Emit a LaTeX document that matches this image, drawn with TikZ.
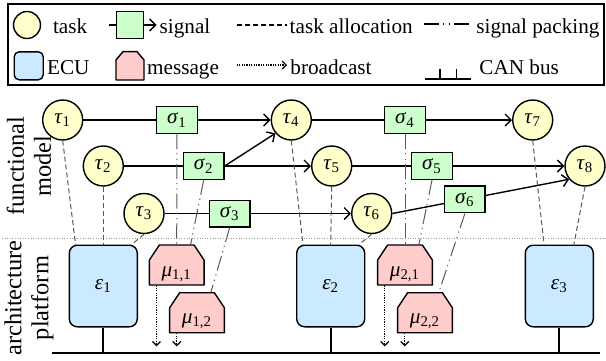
\documentclass[tikz,border=0pt]{standalone}
\usepackage{fontspec}
\setmainfont{Liberation Serif}
\usetikzlibrary{arrows.meta,calc}
\definecolor{taskc}{RGB}{255,255,204}
\definecolor{sigc}{RGB}{204,255,204}
\definecolor{ecuc}{RGB}{204,234,255}
\definecolor{msgc}{RGB}{255,204,204}
\newcommand\gl[2]{\textit{#1}\textsubscript{#2}}
\newcommand\msgbox[8]{%
  \path[draw=black, fill=msgc, line width=0.7pt, line join=round]
    (#2-#4/2,#3+#5/2) -- (#2-#4/2,#3-#5/2+#7) -- (#2-#4/2+#6,#3-#5/2) -- (#2+#4/2-#6,#3-#5/2) -- (#2+#4/2,#3-#5/2+#7) -- (#2+#4/2,#3+#5/2) -- cycle;
  \node[inner sep=0pt, minimum width=#4*0.5pt, minimum height=#5*0.5pt] (#1) at (#2,#3) {#8};
}
\newcommand\mulab[2]{\raisebox{-5.5pt}[0pt][0pt]{\gl{μ}{#1,#2}}}
\begin{document}
\begin{tikzpicture}[x=0.5pt, y=-0.5pt,
  font=\fontsize{10.6pt}{12.7pt}\selectfont,
  task/.style={circle, draw, fill=taskc, line width=0.7pt, minimum size=20pt, inner sep=0pt},
  sig/.style={rectangle, draw, fill=sigc, line width=0.7pt, minimum width=20.3pt, minimum height=13.3pt, inner sep=0pt},
  ecu/.style={rectangle, rounded corners=4pt, draw, fill=ecuc, line width=0.7pt, minimum width=34pt, minimum height=40.8pt, inner sep=0pt},
  txt/.style={inner sep=0pt, anchor=base west},
  conn/.style={line width=0.7pt, -{Straight Barb[length=3pt,width=6pt]}},
  plain/.style={line width=0.7pt},
  alloc/.style={line width=0.5pt, draw=black!65, dash pattern=on 2.5pt off 1.5pt},
  pack/.style={line width=0.5pt, draw=black!65, dash pattern=on 7.5pt off 2pt on 0.6pt off 2.2pt on 0.6pt off 2pt},
  bcast/.style={line width=0.6pt, dash pattern=on 0.6pt off 0.6pt, -{Straight Barb[length=2pt,width=4pt]}},
  bus/.style={line width=1pt},
  sepline/.style={line width=0.4pt, draw=black!40, dash pattern=on 0.5pt off 0.8pt},
  side/.style={font=\fontsize{12.2pt}{13.5pt}\selectfont, align=center, rotate=90, inner sep=0pt}
]
\useasboundingbox (0,0) rectangle (606,360);

% ---------- legend ----------
\node[draw, line width=0.7pt, minimum width=298pt, minimum height=40.5pt, inner sep=0pt] (legend) at (306,44.5) {};

\node[txt] (ltask) at (52.7,33) {task};
\node[txt] (lsig) at (159.3,33) {signal};
\node[txt] (lalloc) at (289.3,33) {task allocation};
\node[txt] (lpack) at (476,33) {signal packing};
\node[txt] (lecu) at (46.7,74) {ECU};
\node[txt] (lmsg) at (146.7,74) {message};
\node[txt] (lbc) at (290,74) {broadcast};
\node[txt] (lcan) at (479,74) {CAN bus};

\node[task, minimum size=13.5pt] (lt) at (27,25) {};
\node[sig, minimum width=13.5pt, minimum height=13.5pt] (ls) at (129.7,25) {};
\coordinate (lsin) at (109.3,25);
\draw[plain] (lsin) -- (ls.west);
\draw[conn, shorten >=1.3pt] (ls.east) -- (ls.east -| lsig.west);
\coordinate (la) at (236.7,25);
\draw[alloc, line width=0.6pt, draw=black] (la) -- ($(la -| lalloc.west)+(-2.6,0)$);
\coordinate (lp) at (424,24);
\draw[pack, line width=0.6pt, draw=black] (lp) -- ($(lp -| lpack.west)+(-5.3,0)$);

\node[ecu, minimum width=14.5pt, minimum height=14pt, rounded corners=2.5pt] (le) at (28.7,65.8) {};
\msgbox{lm}{130}{65.8}{28}{28.3}{7}{8.3}{}
\coordinate (lb) at (236.7,65);
\draw[bcast] (lb) -- ($(lb -| lbc.west)+(-3,0)$);
\coordinate (lc1) at (425,79);
\coordinate (lc2) at (470.7,79);
\coordinate (lct1) at (440,69);
\coordinate (lct2) at (456.7,69);
\draw[line width=0.75pt] (lc1) -- (lc2);
\draw[line width=0.75pt] (lct1) -- (lct1 |- lc1);
\draw[line width=0.75pt] (lct2) -- (lct2 |- lc1);

% ---------- side labels and separator ----------
\coordinate (sepL) at (2,238);
\coordinate (sepR) at (606,238);
\draw[sepline] (sepL) -- (sepR);
\node[side] (fm) at (29,166) {functional\\model};
\node[side] (ap) at (29,298) {architecture\\platform};

% ---------- tasks ----------
\node[task] (t1) at (62.7,120) {\gl{τ}{1}};
\node[task] (t2) at (103.3,166) {\gl{τ}{2}};
\node[task] (t3) at (144,213.5) {\gl{τ}{3}};
\node[task] (t4) at (291.3,120) {\gl{τ}{4}};
\node[task] (t5) at (331.7,166) {\gl{τ}{5}};
\node[task] (t6) at (371.7,213.5) {\gl{τ}{6}};
\node[task] (t7) at (532.7,120) {\gl{τ}{7}};
\node[task] (t8) at (585,166) {\gl{τ}{8}};

% ---------- signals ----------
\node[sig] (s1) at (177,120) {\gl{σ}{1}};
\node[sig] (s2) at (203.7,166) {\gl{σ}{2}};
\node[sig] (s3) at (229.7,213.5) {\gl{σ}{3}};
\node[sig] (s4) at (405,120) {\gl{σ}{4}};
\node[sig] (s5) at (432,166) {\gl{σ}{5}};
\path (t6.east) -- (t8.220) coordinate[pos=0.41] (s6c);
\node[sig] (s6) at (s6c) {\gl{σ}{6}};

\draw[plain] (t1) -- (s1);
\draw[conn] (s1) -- (t4);
\draw[plain] (t4) -- (s4);
\draw[conn] (s4) -- (t7);
\draw[plain] (t2) -- (s2);
\draw[conn] (s2) -- (t5);
\draw[conn] (s2.east) -- (t4.220);
\draw[plain] (t5) -- (s5);
\draw[conn] (s5) -- (t8);
\draw[plain] (t3) -- (s3);
\draw[conn] (s3) -- (t6);
\draw[plain] (t6.east) -- (s6);
\draw[conn] (s6) -- (t8.220);

% ---------- architecture ----------
\node[ecu] (e1) at (103.3,286) {\gl{ε}{1}};
\node[ecu] (e2) at (330.7,286) {\gl{ε}{2}};
\node[ecu] (e3) at (559.3,286) {\gl{ε}{3}};
\msgbox{m11}{176.7}{265}{54.7}{40}{10}{15}{\mulab{1}{1}}
\msgbox{m12}{197}{312.7}{54.7}{40}{10}{15}{\mulab{1}{2}}
\msgbox{m21}{405}{265}{54.7}{40}{10}{15}{\mulab{2}{1}}
\msgbox{m22}{425}{312.7}{54.7}{40}{10}{15}{\mulab{2}{2}}

% allocation
\draw[alloc] (t1.south) -- ($(e1.north west)!0.1!(e1.north east)$);
\draw[alloc] (t2.south) -- (e1.north);
\draw[alloc] (t3.south) -- ($(e1.north west)!0.91!(e1.north east)$);
\draw[alloc] (t4.south) -- ($(e2.north west)!0.1!(e2.north east)$);
\draw[alloc] (t5.south) -- (e2.north);
\draw[alloc] (t6.south) -- ($(e2.north west)!0.91!(e2.north east)$);
\draw[alloc] (t7.south) -- ($(e3.north west)!0.28!(e3.north east)$);
\draw[alloc] (t8.south) -- ($(e3.north west)!0.71!(e3.north east)$);

% packing
\draw[pack] (s1.south) -- (m11.north);
\draw[pack] (s2.south) -- ($(m11.north west)!0.75!(m11.north east)$);
\draw[pack] (s3.south) -- ($(m12.north west)!0.75!(m12.north east)$);
\draw[pack] (s4.south) -- (m21.north);
\draw[pack] (s5.south) -- ($(m21.north west)!0.75!(m21.north east)$);
\draw[pack] (s6.south) -- ($(m22.north west)!0.75!(m22.north east)$);

% bus
\coordinate (busL) at (52,353.3);
\coordinate (busR) at (600,353.3);
\draw[bus] (busL) -- (busR);
\draw[bus] (e1.south) -- (e1.south |- busL);
\draw[bus] (e2.south) -- (e2.south |- busL);
\draw[bus] (e3.south) -- (e3.south |- busL);

% broadcast
\draw[bcast] ($(m11.south west)+(7.5,0)$) -- ($(m11.south west |- busL)+(7.5,-7)$);
\draw[bcast] ($(m12.south west)+(7.5,0)$) -- ($(m12.south west |- busL)+(7.5,-7)$);
\draw[bcast] ($(m21.south west)+(7.5,0)$) -- ($(m21.south west |- busL)+(7.5,-7)$);
\draw[bcast] ($(m22.south west)+(7.5,0)$) -- ($(m22.south west |- busL)+(7.5,-7)$);
\end{tikzpicture}
\end{document}
